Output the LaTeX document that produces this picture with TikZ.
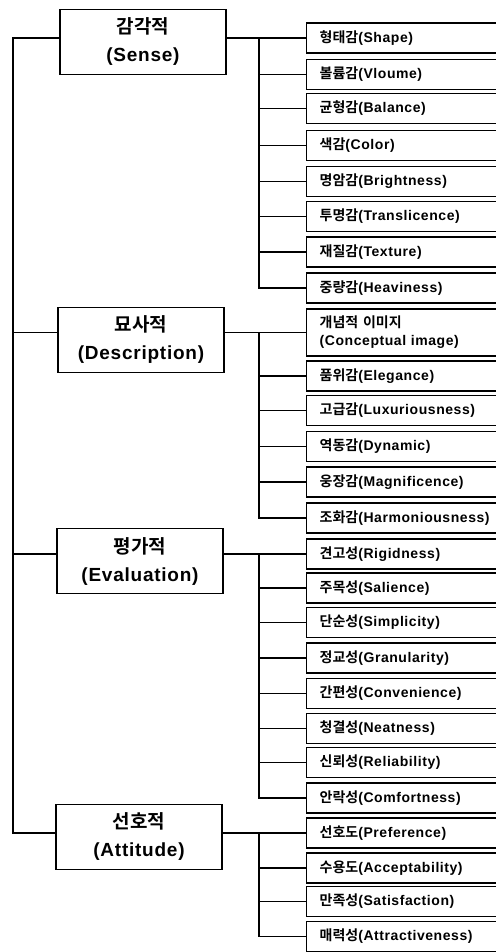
\documentclass[tikz,border=0pt]{standalone}
\usepackage{fontspec}
\setmainfont{Liberation Sans Bold}[LetterSpace=4]
\newfontfamily\kr{Noto Sans CJK KR Bold}
\newcommand\ko[1]{{\kr #1}}
\begin{document}
\begin{tikzpicture}[x=1pt,y=-1pt,line width=1.4pt,
  cat/.style={draw,minimum width=166pt,minimum height=65pt,align=center,font=\fontsize{19}{28}\selectfont},
  leaf/.style={draw,anchor=west,text width=200pt,inner xsep=13pt,inner ysep=7pt,minimum height=30pt,align=left,font=\fontsize{14}{18}\selectfont}]
\useasboundingbox (0,0) rectangle (495,952);
\coordinate (trunk) at (13,0);
\coordinate (fork) at (259,0);
% categories
\node[cat] (sense) at (143,42) {\ko{감각적}\\(Sense)};
\node[cat] (descr) at (141,340) {\ko{묘사적}\\(Description)};
\node[cat] (eval) at (140,561) {\ko{평가적}\\(Evaluation)};
\node[cat] (attit) at (139,837) {\ko{선호적}\\(Attitude)};
% leaves
\foreach \n/\y/\t in {s1/38/{\ko{형태감}(Shape)},s2/74.5/{\ko{볼륨감}(Vloume)},s3/108.5/{\ko{균형감}(Balance)},
  s4/145.5/{\ko{색감}(Color)},s5/181.5/{\ko{명암감}(Brightness)},s6/216.5/{\ko{투명감}(Translicence)},
  s7/252/{\ko{재질감}(Texture)},s8/288/{\ko{중량감}(Heaviness)},
  d1/332.5/{\ko{개념적 이미지}\\(Conceptual image)},d2/376/{\ko{품위감}(Elegance)},d3/410.5/{\ko{고급감}(Luxuriousness)},
  d4/446.5/{\ko{역동감}(Dynamic)},d5/482/{\ko{웅장감}(Magnificence)},d6/518/{\ko{조화감}(Harmoniousness)},
  e1/554/{\ko{견고성}(Rigidness)},e2/588/{\ko{주목성}(Salience)},e3/622.5/{\ko{단순성}(Simplicity)},
  e4/658/{\ko{정교성}(Granularity)},e5/693.5/{\ko{간편성}(Convenience)},e6/728.5/{\ko{청결성}(Neatness)},
  e7/762.5/{\ko{신뢰성}(Reliability)},e8/798/{\ko{안락성}(Comfortness)},
  a1/833/{\ko{선호도}(Preference)},a2/868/{\ko{수용도}(Acceptability)},a3/901.5/{\ko{만족성}(Satisfaction)},
  a4/936.5/{\ko{매력성}(Attractiveness)}}
  \node[leaf] (\n) at (306,\y) {\t};
% trunk
\draw (sense.west |- s1.west) -| (trunk |- a1.west) -- (attit.west |- a1.west);
\draw (trunk |- d1.west) -- (descr.west |- d1.west);
\draw (trunk |- e1.west) -- (eval.west |- e1.west);
% branches
\foreach \c/\g/\k in {sense/s/8,descr/d/6,eval/e/8,attit/a/4}{
  \draw (\c.east |- \g1.west) -- (\g1.west);
  \draw (fork |- \g1.west) |- (\g\k.west);
  \foreach \i in {2,...,\k}
    \draw (fork |- \g\i.west) -- (\g\i.west);
}
\end{tikzpicture}
\end{document}
